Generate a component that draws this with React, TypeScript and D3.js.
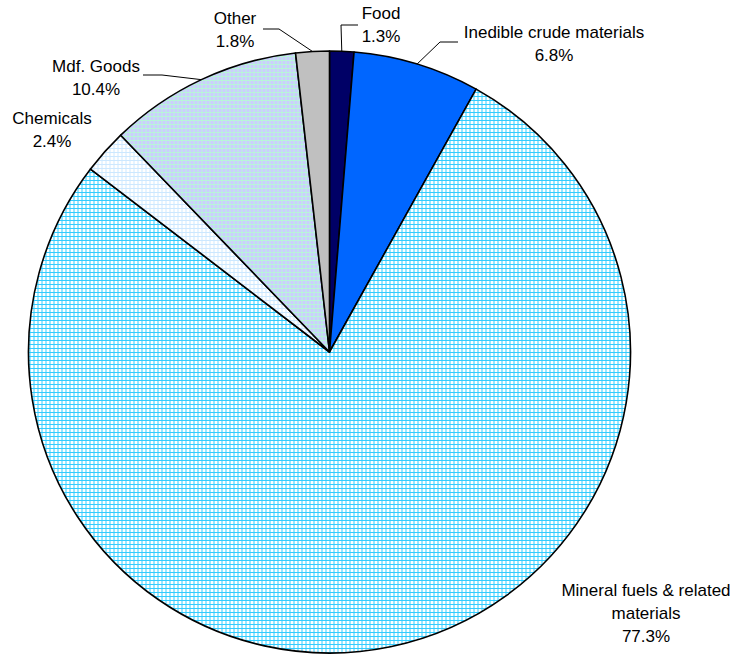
import React, { useRef, useEffect } from 'react';
import * as d3 from 'd3';

const categories = ['Food', 'Inedible crude materials', 'Mineral fuels & related materials', 'Chemicals', 'Mdf. Goods', 'Other'];
const shares = [1.3, 6.8, 77.3, 2.4, 10.4, 1.8];
const labelLines = [['Food'], ['Inedible crude materials'], ['Mineral fuels & related', 'materials'], ['Chemicals'], ['Mdf. Goods'], ['Other']];

const width = 740;
const height = 655;
const cx = 329.5;
const cy = 352;
const radius = 301;

// label anchor (x, first baseline) and leader polyline end near the label
const labelLayout: { x: number; y: number; leader?: [number, number][] }[] = [
    { x: 381, y: 19, leader: [[358, 25], [341, 25]] },
    { x: 554, y: 38, leader: [[458, 42], [440, 42]] },
    { x: 646, y: 596 },
    { x: 52, y: 124 },
    { x: 96, y: 72, leader: [[143, 75], [162, 75]] },
    { x: 235, y: 24, leader: [[263, 29], [279, 29]] },
];

const App: React.FC = () => {
    const ref = useRef<SVGSVGElement | null>(null);

    useEffect(() => {
        const svg = d3.select(ref.current);
        svg.selectAll('*').remove();

        const defs = svg.append('defs');
        const grid = (id: string, bg: string, line: string) => {
            const p = defs.append('pattern')
                .attr('id', id)
                .attr('patternUnits', 'userSpaceOnUse')
                .attr('width', 4)
                .attr('height', 4);
            p.append('rect').attr('width', 4).attr('height', 4).attr('fill', bg);
            p.append('rect').attr('x', 0).attr('y', 0).attr('width', 1).attr('height', 4).attr('fill', line);
            p.append('rect').attr('x', 0).attr('y', 0).attr('width', 4).attr('height', 1).attr('fill', line);
        };
        grid('pMineral', '#ffffff', '#33ccff');
        grid('pMdf', '#ccccff', '#b8f5d8');
        grid('pChem', '#ffffff', '#cce8ff');

        const fills = ['#000066', '#0066ff', 'url(#pMineral)', 'url(#pChem)', 'url(#pMdf)', '#c0c0c0'];

        const data = categories.map((c, i) => ({ label: c, value: shares[i], i }));
        const pie = d3.pie<{ label: string; value: number; i: number }>()
            .value((d) => d.value)
            .sort(null);
        const arcs = pie(data);

        const arc = d3.arc<d3.PieArcDatum<{ label: string; value: number; i: number }>>()
            .innerRadius(0)
            .outerRadius(radius);

        const g = svg.append('g').attr('transform', `translate(${cx},${cy})`);

        g.selectAll('path')
            .data(arcs)
            .enter()
            .append('path')
            .attr('d', arc)
            .attr('fill', (d) => fills[d.index])
            .attr('stroke', '#000')
            .attr('stroke-width', 1.6)
            .attr('stroke-linejoin', 'round');

        const txt = svg.append('g')
            .attr('font-family', 'Liberation Sans, Arial, sans-serif')
            .attr('font-size', 17)
            .attr('fill', '#000')
            .attr('text-anchor', 'middle');

        arcs.forEach((d, i) => {
            const lay = labelLayout[i];
            if (lay.leader) {
                const mid = (d.startAngle + d.endAngle) / 2;
                const ex = cx + Math.sin(mid) * radius;
                const ey = cy - Math.cos(mid) * radius;
                const pts: [number, number][] = [...lay.leader, [ex, ey]];
                svg.append('path')
                    .attr('d', d3.line()(pts))
                    .attr('fill', 'none')
                    .attr('stroke', '#000')
                    .attr('stroke-width', 1);
            }
            const lines = [...labelLines[i], `${shares[i].toFixed(1)}%`];
            lines.forEach((l, j) => {
                txt.append('text')
                    .attr('x', lay.x)
                    .attr('y', lay.y + j * 23)
                    .text(l);
            });
        });
    }, []);

    return <svg ref={ref} width={width} height={height} style={{ display: 'block', position: 'absolute', left: 0, top: 0 }} />;
};

export default App;
